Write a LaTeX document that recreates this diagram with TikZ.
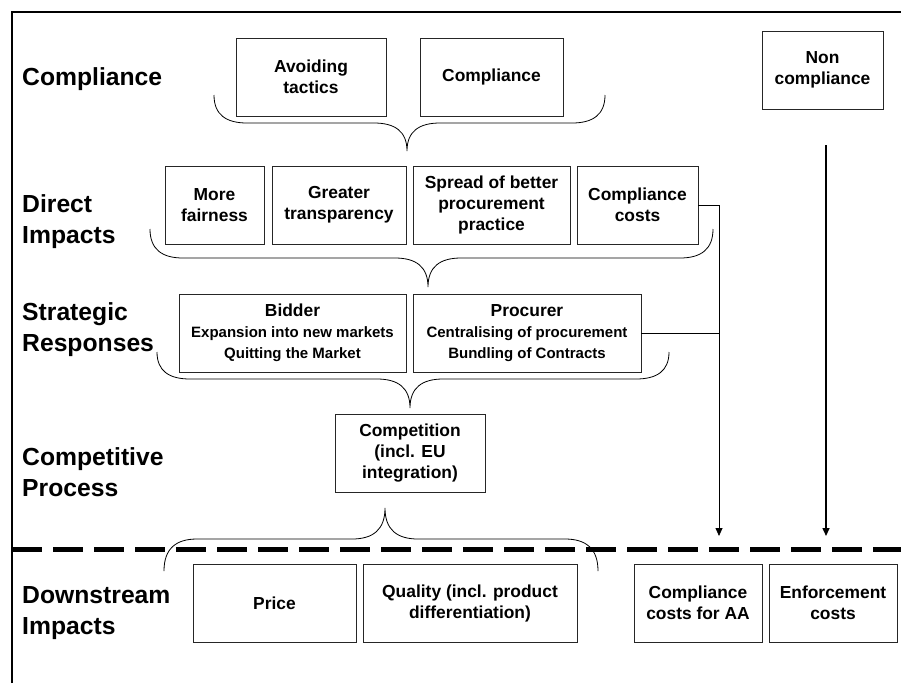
\documentclass[tikz,border=0pt]{standalone}
\usepackage{fontspec}
\setmainfont{Liberation Sans}
\usetikzlibrary{arrows.meta}
\newcommand\subln{\fontsize{15}{19}\selectfont}

\begin{document}
\begin{tikzpicture}[x=1pt,y=-1pt,
  box/.style={draw=black!85, line width=0.8pt, inner sep=0pt, minimum height=78pt, align=center, font=\fontsize{17.4}{21}\selectfont\bfseries},
  lvl/.style={anchor=west, inner sep=0pt, align=left, font=\fontsize{24.7}{31}\selectfont\bfseries},
  brace/.style={line width=0.8pt}]
\useasboundingbox (0,0) rectangle (901,683);
\draw[line width=2.5pt] (12,683) -- (12,12) -- (901,12);
\draw[line width=5pt, dash pattern=on 30pt off 11pt] (12,549.5) -- (901,549.5);
\foreach \y/\t [count=\k] in {79/{Compliance}, 222/{Direct\\Impacts}, 330/{Strategic\\Responses}, 472/{Competitive\\Process}, 613/{Downstream\\Impacts}}
  \node[lvl] (lvl\k) at (22,\y) {\t};
\foreach \n/\x/\y/\w/\t in {avoid/311/77/150/{Avoiding\\tactics}, comp/491.5/77/143/{Compliance}, noncomp/822.5/70/121/{Non\\compliance},
  fair/214.5/205/99/{More\\fairness}, transp/339/205/134/{Greater\\transparency}, spread/491.5/205/157/{Spread of better\\procurement\\practice}, ccost/637.5/205/121/{Compliance\\costs},
  bidder/292.5/333/227/{Bidder\\\subln Expansion into new markets\\\subln Quitting the Market}, procurer/527/333/228/{Procurer\\\subln Centralising of procurement\\\subln Bundling of Contracts},
  compet/410/453.5/150/{Competition\\(incl. EU\\integration)},
  price/274.5/603/163/{Price}, quality/470/603/214/{Quality (incl. product\\differentiation)}, ccaa/698/603/128/{Compliance\\costs for AA}, enforce/833/603/128/{Enforcement\\costs}}
  \node[box, minimum width=\w pt] (\n) at (\x,\y) {\t};
\foreach \bl/\br/\bt/\ye/\yh/\yt in {214/605/407/95/123/151, 150/713/428/229/258/287, 157/669/410/352/379/408, 164/598/385/571/539/508}
  \draw[brace] (\bl,\ye) .. controls (\bl,{\ye+0.7*(\yh-\ye)}) and ({\bl+12},\yh) .. ({\bl+33},\yh) -- ({\bt-33},\yh)
    .. controls ({\bt-12},\yh) and (\bt,{\yh+0.3*(\yt-\yh)}) .. (\bt,\yt)
    .. controls (\bt,{\yh+0.3*(\yt-\yh)}) and ({\bt+12},\yh) .. ({\bt+33},\yh) -- ({\br-33},\yh)
    .. controls ({\br-12},\yh) and (\br,{\ye+0.7*(\yh-\ye)}) .. (\br,\ye);
\coordinate (aaIn) at (719,536);
\coordinate (ncOut) at (826,145);
\coordinate (ncIn) at (826,536);
\draw[line width=0.8pt, -{Triangle[length=8pt,width=7pt]}] (ccost.east) -| (aaIn);
\draw[line width=0.8pt] (procurer.east) -- (procurer.east -| aaIn);
\draw[line width=1.5pt, -{Triangle[length=8pt,width=7pt]}] (ncOut) -- (ncIn);
\end{tikzpicture}
\end{document}
